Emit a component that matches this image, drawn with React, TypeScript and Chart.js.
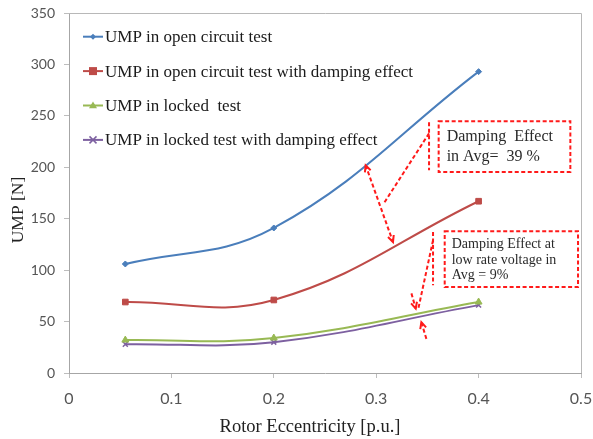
import React, { useEffect, useRef } from "react";
import { Chart, registerables } from "chart.js";

Chart.register(...registerables);

const eccentricity = [0.055, 0.2, 0.4];
const openCircuit = [106, 141, 293];
const openCircuitDamped = [69, 71, 167];
const lockedTest = [32, 34, 69];
const lockedDamped = [28, 30, 66];

const seriesLabels = [
  "UMP in open circuit test",
  "UMP in open circuit test with damping effect",
  "UMP in locked  test",
  "UMP in locked test with damping effect",
];
const seriesColors = ["#4A7EBB", "#BE4B48", "#98B954", "#7D60A0"];
const seriesStyles = ["rectRot", "rect", "triangle", "crossRot"];
const seriesRadius = [3, 4, 4, 3.5];

const xTickValues = [0, 0.1, 0.2, 0.3, 0.4, 0.5];
const yTickValues = [0, 50, 100, 150, 200, 250, 300, 350];

const xTitle = "Rotor Eccentricity [p.u.]";
const yTitle = "UMP [N]";

const note1Lines = ["Damping  Effect", "in Avg=  39 %"];
const note2Lines = ["Damping Effect at", "low rate voltage in", "Avg = 9%"];

function drawMarker(ctx: CanvasRenderingContext2D, style: string, cx: number, cy: number, r: number, color: string) {
  ctx.save();
  ctx.fillStyle = color;
  ctx.strokeStyle = color;
  ctx.lineWidth = 1.5;
  ctx.setLineDash([]);
  ctx.beginPath();
  if (style === "rectRot") {
    ctx.moveTo(cx, cy - r);
    ctx.lineTo(cx + r, cy);
    ctx.lineTo(cx, cy + r);
    ctx.lineTo(cx - r, cy);
    ctx.closePath();
    ctx.fill();
  } else if (style === "rect") {
    ctx.rect(cx - r, cy - r, 2 * r, 2 * r);
    ctx.fill();
  } else if (style === "triangle") {
    ctx.moveTo(cx, cy - r);
    ctx.lineTo(cx + r, cy + r * 0.7);
    ctx.lineTo(cx - r, cy + r * 0.7);
    ctx.closePath();
    ctx.fill();
  } else {
    ctx.moveTo(cx - r, cy - r);
    ctx.lineTo(cx + r, cy + r);
    ctx.moveTo(cx + r, cy - r);
    ctx.lineTo(cx - r, cy + r);
    ctx.stroke();
  }
  ctx.restore();
}

function dashedLine(ctx: CanvasRenderingContext2D, x1: number, y1: number, x2: number, y2: number) {
  ctx.beginPath();
  ctx.moveTo(x1, y1);
  ctx.lineTo(x2, y2);
  ctx.stroke();
}

function arrowHead(ctx: CanvasRenderingContext2D, fromX: number, fromY: number, toX: number, toY: number) {
  const ang = Math.atan2(toY - fromY, toX - fromX);
  const len = 7;
  ctx.save();
  ctx.setLineDash([]);
  ctx.beginPath();
  ctx.moveTo(toX - len * Math.cos(ang - 0.45), toY - len * Math.sin(ang - 0.45));
  ctx.lineTo(toX, toY);
  ctx.lineTo(toX - len * Math.cos(ang + 0.45), toY - len * Math.sin(ang + 0.45));
  ctx.stroke();
  ctx.restore();
}

const overlayPlugin = {
  id: "overlay",
  afterDraw(chart: any) {
    const { ctx, chartArea } = chart;
    const xs = chart.scales.x;
    const ys = chart.scales.y;
    const px = (v: number) => xs.getPixelForValue(v);
    const py = (v: number) => ys.getPixelForValue(v);

    ctx.save();
    // plot frame top and right
    ctx.strokeStyle = "#B8B8B8";
    ctx.lineWidth = 1;
    ctx.beginPath();
    ctx.moveTo(chartArea.left, chartArea.top + 0.5);
    ctx.lineTo(chartArea.right + 0.5, chartArea.top + 0.5);
    ctx.lineTo(chartArea.right + 0.5, chartArea.bottom);
    ctx.stroke();

    // legend
    const lx = chartArea.left + 14;
    const ly = chartArea.top + 23.7;
    ctx.font = "17px 'Liberation Serif', 'Times New Roman', serif";
    ctx.textBaseline = "middle";
    ctx.textAlign = "left";
    chart.data.datasets.forEach((ds: any, i: number) => {
      const yy = ly + i * 34.4;
      ctx.strokeStyle = seriesColors[i];
      ctx.lineWidth = 2;
      ctx.beginPath();
      ctx.moveTo(lx, yy);
      ctx.lineTo(lx + 20, yy);
      ctx.stroke();
      drawMarker(ctx, seriesStyles[i], lx + 10, yy, seriesRadius[i], seriesColors[i]);
      ctx.fillStyle = "#1a1a1a";
      ctx.fillText(ds.label, lx + 22, yy + 1);
    });

    // axis titles
    ctx.fillStyle = "#222";
    ctx.font = "18.5px 'Liberation Serif', 'Times New Roman', serif";
    ctx.textAlign = "center";
    ctx.textBaseline = "alphabetic";
    ctx.fillText(xTitle, 310, 432);
    ctx.save();
    ctx.translate(23, 210);
    ctx.rotate(-Math.PI / 2);
    ctx.font = "17.5px 'Liberation Serif', 'Times New Roman', serif";
    ctx.fillText(yTitle, 0, 0);
    ctx.restore();

    // annotations
    ctx.strokeStyle = "#FF1A1A";
    ctx.lineWidth = 2;
    ctx.setLineDash([4, 2.5]);

    // box 1
    const b1x1 = px(0.361), b1x2 = px(0.4896), b1y1 = py(244.7), b1y2 = py(195.4);
    ctx.fillStyle = "#ffffff";
    ctx.fillRect(b1x1, b1y1, b1x2 - b1x1, b1y2 - b1y1);
    ctx.strokeRect(b1x1, b1y1, b1x2 - b1x1, b1y2 - b1y1);
    // box 2
    const b2x1 = px(0.3669), b2x2 = px(0.4971), b2y1 = py(137.8), b2y2 = py(83.6);
    ctx.fillRect(b2x1, b2y1, b2x2 - b2x1, b2y2 - b2y1);
    ctx.strokeRect(b2x1, b2y1, b2x2 - b2x1, b2y2 - b2y1);

    // leader 1
    dashedLine(ctx, px(0.3516), py(243.7), px(0.3516), py(197));
    dashedLine(ctx, px(0.3516), py(233), px(0.3073), py(164.7));
    // double arrow 1
    const a1x = px(0.2897), a1y = py(201.9), a2x = px(0.3164), a2y = py(127.4);
    dashedLine(ctx, a1x, a1y, a2x, a2y);
    arrowHead(ctx, a2x, a2y, a1x, a1y);
    arrowHead(ctx, a1x, a1y, a2x, a2y);

    // leader 2
    dashedLine(ctx, px(0.3555), py(137.1), px(0.3555), py(85.3));
    dashedLine(ctx, px(0.3555), py(129), px(0.3408), py(61));
    // small arrows
    const s1x = px(0.3344), s1y = py(77.4), s2x = px(0.3386), s2y = py(62.6);
    dashedLine(ctx, s1x, s1y, s2x, s2y);
    arrowHead(ctx, s1x, s1y, s2x, s2y);
    const t1x = px(0.349), t1y = py(33.2), t2x = px(0.3441), t2y = py(49.4);
    dashedLine(ctx, t1x, t1y, t2x, t2y);
    arrowHead(ctx, t1x, t1y, t2x, t2y);

    // note texts
    ctx.setLineDash([]);
    ctx.fillStyle = "#2a2a2a";
    ctx.textAlign = "left";
    ctx.textBaseline = "middle";
    ctx.font = "16px 'Liberation Serif', 'Times New Roman', serif";
    note1Lines.forEach((t, i) => ctx.fillText(t, b1x1 + 8, b1y1 + 15 + i * 20));
    ctx.font = "14px 'Liberation Serif', 'Times New Roman', serif";
    note2Lines.forEach((t, i) => ctx.fillText(t, b2x1 + 7, b2y1 + 13.5 + i * 15.5));

    ctx.restore();
  },
};

export default function App() {
  const ref = useRef<HTMLCanvasElement>(null);
  useEffect(() => {
    document.body.style.margin = "0";
    const series = [openCircuit, openCircuitDamped, lockedTest, lockedDamped];
    const datasets = series.map((vals, i) => ({
      label: seriesLabels[i],
      data: vals.map((v, j) => ({ x: eccentricity[j], y: v })),
      borderColor: seriesColors[i],
      backgroundColor: seriesColors[i],
      borderWidth: 2,
      pointStyle: seriesStyles[i],
      pointRadius: seriesRadius[i],
      pointBorderWidth: i === 3 ? 1.5 : 1,
      tension: 0.4,
      fill: false,
    }));
    const chart = new Chart(ref.current as HTMLCanvasElement, {
      type: "line",
      data: { datasets },
      options: {
        responsive: false,
        animation: false,
        layout: { padding: { left: 0, top: 13, right: 12, bottom: 0 } },
        plugins: { legend: { display: false }, title: { display: false }, tooltip: { enabled: false } },
        scales: {
          x: {
            type: "linear",
            min: 0,
            max: 0.5,
            afterFit: (s: any) => { s.height = 66; s.paddingLeft = 0; s.paddingRight = 0; },
            afterBuildTicks: (s: any) => { s.ticks = xTickValues.map((v) => ({ value: v })); },
            grid: { drawOnChartArea: false, drawTicks: true, tickLength: 5, color: "#BDBDBD" },
            border: { display: true, color: "#A6A6A6", width: 1 },
            ticks: {
              padding: 11,
              color: "#555555",
              font: { family: "Lato, 'Open Sans', sans-serif", size: 16 },
              maxRotation: 0,
            },
          },
          y: {
            min: 0,
            max: 350,
            afterFit: (s: any) => { s.width = 69; s.paddingTop = 0; s.paddingBottom = 0; },
            afterBuildTicks: (s: any) => { s.ticks = yTickValues.map((v) => ({ value: v })); },
            grid: { drawOnChartArea: false, drawTicks: true, tickLength: 5, color: "#BDBDBD" },
            border: { display: true, color: "#A6A6A6", width: 1 },
            ticks: {
              padding: 9,
              color: "#555555",
              font: { family: "Lato, 'Open Sans', sans-serif", size: 14 },
            },
          },
        },
      },
      plugins: [overlayPlugin],
    });
    return () => chart.destroy();
  }, []);
  return (
    <div style={{ width: 593, height: 439, background: "#fff" }}>
      <canvas ref={ref} width={593} height={439} />
    </div>
  );
}
